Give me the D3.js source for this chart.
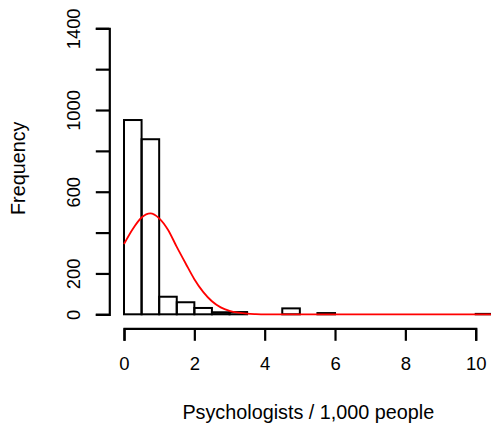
<!DOCTYPE html>
<html>
<head>
<meta charset="utf-8">
<script src="https://cdn.jsdelivr.net/npm/d3@7"></script>
<style>
  html, body { margin: 0; padding: 0; background: #fff; }
  svg { display: block; font-family: "Liberation Sans", Arial, Helvetica, sans-serif; }
</style>
</head>
<body>
<div id="chart"></div>
<script>
// ---- data ----
const binStarts = [0,0.5,1,1.5,2,2.5,3,3.5,4,4.5,5,5.5,6,6.5,7,7.5,8,8.5,9,9.5,10];
const binCounts = [951,857,86,59,31,10,11,0,0,29,0,6,0,0,0,0,0,0,0,0,2];
const binWidth = 0.5;
const curveX = [0,0.25,0.5,0.75,1,1.25,1.5,1.75,2,2.25,2.5,2.75,3,3.25,3.5,3.75,4,5,6,7,8,9,10,10.6];
const curveY = [344,418,474,494,470,414,330,250,172,110,64,34,17,8,3,1,0,0,0,0,0,0,0,0];
const xTicks = [0,2,4,6,8,10];
const yTicks = [0,200,400,600,800,1000,1200,1400];
const yTickLabels = ["0","200","","600","","1000","","1400"];
const xTitle = "Psychologists / 1,000 people";
const yTitle = "Frequency";

// ---- chart ----
const W = 491, H = 440;
const svg = d3.select("#chart").append("svg").attr("width", W).attr("height", H);

const x = d3.scaleLinear().domain([0, 10]).range([124, 475.7]);
const y = d3.scaleLinear().domain([0, 1400]).range([314.3, 28.3]);

// bars
svg.append("g").selectAll("rect")
  .data(binStarts.map((s, i) => ({s, c: binCounts[i]})))
  .join("rect")
  .attr("x", d => x(d.s))
  .attr("width", d => x(d.s + binWidth) - x(d.s))
  .attr("y", d => y(d.c))
  .attr("height", d => y(0) - y(d.c))
  .attr("fill", "none")
  .attr("stroke", "#000")
  .attr("stroke-width", 2);

// curve
const line = d3.line()
  .x((d, i) => x(curveX[i]))
  .y((d, i) => y(curveY[i]))
  .curve(d3.curveMonotoneX);
svg.append("path")
  .attr("d", line(curveX))
  .attr("fill", "none")
  .attr("stroke", "#ff0000")
  .attr("stroke-width", 1.8);

// x axis
const xAxis = d3.axisBottom(x).tickValues(xTicks).tickSize(12.5).tickPadding(16).tickFormat(d3.format("d"));
const gx = svg.append("g").attr("transform", "translate(0,328.3)").call(xAxis);
gx.select(".domain").attr("stroke-width", 2.2);
gx.selectAll(".tick line").attr("stroke-width", 2.2);
gx.selectAll(".tick text").attr("font-size", 18.5).attr("fill", "#000")
  .attr("font-family", "Liberation Sans, Arial, sans-serif");

// y axis
const yAxis = d3.axisLeft(y).tickValues(yTicks).tickSize(13.5).tickFormat((d, i) => yTickLabels[i]);
const gy = svg.append("g").attr("transform", "translate(109.3,0)").call(yAxis);
gy.select(".domain").attr("stroke-width", 2.2);
gy.selectAll(".tick line").attr("stroke-width", 2.2);
gy.selectAll(".tick text")
  .attr("font-size", 18.3).attr("fill", "#000")
  .attr("font-family", "Liberation Sans, Arial, sans-serif")
  .attr("text-anchor", "middle")
  .attr("x", null).attr("dy", null)
  .attr("transform", "translate(-29.3,0) rotate(-90)");

// titles
svg.append("text")
  .attr("x", 308.3).attr("y", 419)
  .attr("text-anchor", "middle")
  .attr("font-size", 19.8)
  .text(xTitle);
svg.append("text")
  .attr("transform", "translate(25,168.3) rotate(-90)")
  .attr("text-anchor", "middle")
  .attr("font-size", 19.8)
  .text(yTitle);
</script>
</body>
</html>
